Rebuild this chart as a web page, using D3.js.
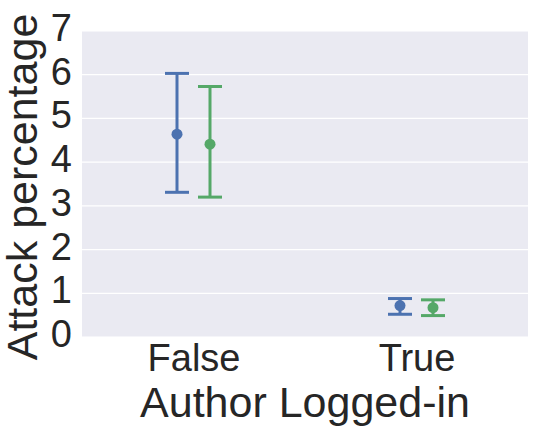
<!DOCTYPE html>
<html>
<head>
<meta charset="utf-8">
<script src="https://cdn.jsdelivr.net/npm/d3@7"></script>
<style>
  body { margin: 0; background: #fff; }
  text { font-family: "Liberation Sans", Arial, sans-serif; fill: #262626; }
</style>
</head>
<body>
<svg id="chart" width="535" height="433"></svg>
<script>
const categories = ["False", "True"];
const hues = ["blue", "green"];
// mean, lower CI, upper CI per category for each hue
const blueMean = [4.64, 0.72];
const blueLow = [3.31, 0.52];
const blueHigh = [6.03, 0.88];
const greenMean = [4.41, 0.67];
const greenLow = [3.20, 0.49];
const greenHigh = [5.73, 0.85];
const yTicks = [0, 1, 2, 3, 4, 5, 6, 7];

const colors = { blue: "#4C72B0", green: "#55A868" };

const svg = d3.select("#chart");
const margin = { left: 82, right: 7, top: 31, bottom: 96 };
const width = 535 - margin.left - margin.right,
    height = 433 - margin.top - margin.bottom;

const g = svg.append("g").attr("transform", "translate(" + margin.left + "," + margin.top + ")");

const x = d3.scalePoint().domain(categories).range([0, width]).padding(0.5);
const dodge = d3.scalePoint().domain(hues).range([-16.5, 16.5]);
const y = d3.scaleLinear().domain([0, 7]).range([height, 0]);

g.append("rect").attr("width", width).attr("height", height).attr("fill", "#EAEAF2");

// gridlines
g.selectAll(".grid")
    .data(yTicks)
    .enter().append("line")
    .attr("x1", 0).attr("x2", width)
    .attr("y1", d => y(d)).attr("y2", d => y(d))
    .attr("stroke", "#fff").attr("stroke-width", 1.2);

// y axis
const yAxis = g.append("g").call(d3.axisLeft(y).tickValues(yTicks).tickFormat(d3.format("d")).tickSize(0).tickPadding(10));
yAxis.select(".domain").remove();
yAxis.selectAll("text")
    .attr("font-size", "38px")
    .attr("dy", "9.5")
    .style("font-family", "'Liberation Sans', Arial, sans-serif")
    .attr("fill", "#262626");

// x axis
const xAxis = g.append("g").attr("transform", "translate(0," + height + ")")
    .call(d3.axisBottom(x).tickSize(0).tickPadding(0));
xAxis.select(".domain").remove();
xAxis.selectAll("text")
    .attr("font-size", "38px")
    .attr("y", 34).attr("dy", 0)
    .style("font-family", "'Liberation Sans', Arial, sans-serif")
    .attr("fill", "#262626");

const series = [
    { hue: "blue", mean: blueMean, low: blueLow, high: blueHigh },
    { hue: "green", mean: greenMean, low: greenLow, high: greenHigh }
];

const capHalf = 12;
series.forEach(s => {
    const pts = categories.map((c, i) => ({
        cx: x(c) + dodge(s.hue), m: s.mean[i], lo: s.low[i], hi: s.high[i]
    }));
    const sg = g.append("g").attr("stroke", colors[s.hue]).attr("fill", colors[s.hue]);
    sg.selectAll(".err").data(pts).enter().append("line")
        .attr("x1", d => d.cx).attr("x2", d => d.cx)
        .attr("y1", d => y(d.lo)).attr("y2", d => y(d.hi))
        .attr("stroke-width", 3);
    sg.selectAll(".capLo").data(pts).enter().append("line")
        .attr("x1", d => d.cx - capHalf).attr("x2", d => d.cx + capHalf)
        .attr("y1", d => y(d.lo)).attr("y2", d => y(d.lo))
        .attr("stroke-width", 3);
    sg.selectAll(".capHi").data(pts).enter().append("line")
        .attr("x1", d => d.cx - capHalf).attr("x2", d => d.cx + capHalf)
        .attr("y1", d => y(d.hi)).attr("y2", d => y(d.hi))
        .attr("stroke-width", 3);
    sg.selectAll(".pt").data(pts).enter().append("circle")
        .attr("cx", d => d.cx).attr("cy", d => y(d.m))
        .attr("r", 5.5).attr("stroke", "none");
});

// axis labels
svg.append("text")
    .attr("x", margin.left + width / 2).attr("y", 417)
    .attr("text-anchor", "middle")
    .attr("font-size", "43px")
    .text("Author Logged-in");

svg.append("text")
    .attr("transform", "translate(37," + (margin.top + height / 2 + 3) + ") rotate(-90)")
    .attr("text-anchor", "middle")
    .attr("font-size", "43px")
    .text("Attack percentage");
</script>
</body>
</html>
